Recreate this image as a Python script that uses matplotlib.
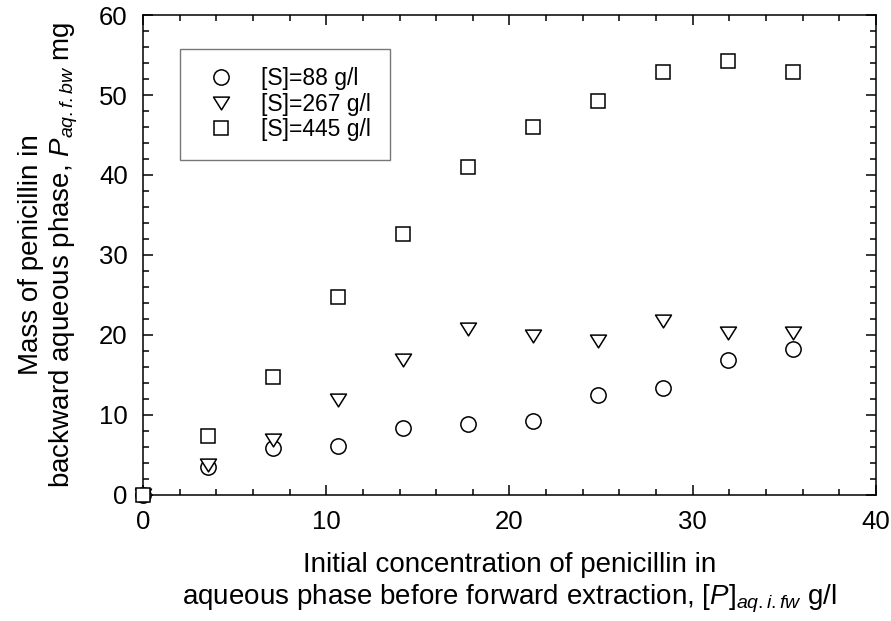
import matplotlib
matplotlib.use("Agg")
import matplotlib.pyplot as plt
from matplotlib.ticker import MultipleLocator
from matplotlib.path import Path

plt.rcParams['font.family'] = ['Liberation Sans', 'DejaVu Sans']
plt.rcParams['mathtext.fontset'] = 'custom'
plt.rcParams['mathtext.rm'] = 'Liberation Sans'
plt.rcParams['mathtext.it'] = 'Liberation Sans:italic'

x = [0, 3.55, 7.1, 10.65, 14.2, 17.75, 21.3, 24.85, 28.4, 31.95, 35.5]
s88 = [0, 3.5, 5.9, 6.1, 8.4, 8.9, 9.3, 12.5, 13.4, 16.9, 18.3]
s267 = [0, 3.8, 6.9, 11.9, 16.9, 20.7, 19.9, 19.3, 21.7, 20.3, 20.2]
s445 = [0, 7.4, 14.8, 24.7, 32.6, 41.0, 46.0, 49.3, 52.9, 54.2, 52.9]
labels = ['[S]=88 g/l', '[S]=267 g/l', '[S]=445 g/l']

tri = Path([(-1, 0.8), (1, 0.8), (0, -0.8), (-1, 0.8)],
           [Path.MOVETO, Path.LINETO, Path.LINETO, Path.CLOSEPOLY])

fig = plt.figure(figsize=(8.91, 6.21), dpi=100)
ax = fig.add_axes([0.1605, 0.203, 0.8225, 0.7728])

kw = dict(linestyle='none', markerfacecolor='white', markeredgecolor='black',
          markeredgewidth=1.1, clip_on=False)
ax.plot(x, s88, marker='o', markersize=11, label=labels[0], zorder=3, **kw)
ax.plot(x, s267, marker=tri, markersize=11.5, label=labels[1], zorder=4, **kw)
ax.plot(x, s445, marker='s', markersize=9.7, label=labels[2], zorder=5, **kw)

ax.set_xlim(0, 40)
ax.set_ylim(0, 60)
ax.xaxis.set_major_locator(MultipleLocator(10))
ax.xaxis.set_minor_locator(MultipleLocator(2))
ax.yaxis.set_major_locator(MultipleLocator(10))
ax.yaxis.set_minor_locator(MultipleLocator(2))
ax.tick_params(which='both', direction='in', top=True, right=True, labelsize=18.5, width=1.1)
ax.tick_params(which='major', length=7, pad=11)
ax.tick_params(which='minor', length=4)
for sp in ax.spines.values():
    sp.set_linewidth(1.1)

ax.set_xlabel('Initial concentration of penicillin in\naqueous phase before forward extraction, [$P$]$_{aq.i.fw}$ g/l',
              fontsize=20, labelpad=13, linespacing=1.2)
ax.set_ylabel('Mass of penicillin in\nbackward aqueous phase, $P_{aq.f.bw}$ mg',
              fontsize=20, labelpad=14, linespacing=1.15)

leg = ax.legend(loc='upper left', bbox_to_anchor=(0.0505, 0.93), fontsize=16.5, frameon=True,
                fancybox=False, edgecolor='#555555', handletextpad=0.75, borderpad=0.8,
                labelspacing=0.12, handlelength=2.0, borderaxespad=0)
leg.get_frame().set_linewidth(1.0)

fig.savefig('out.png', dpi=100)
